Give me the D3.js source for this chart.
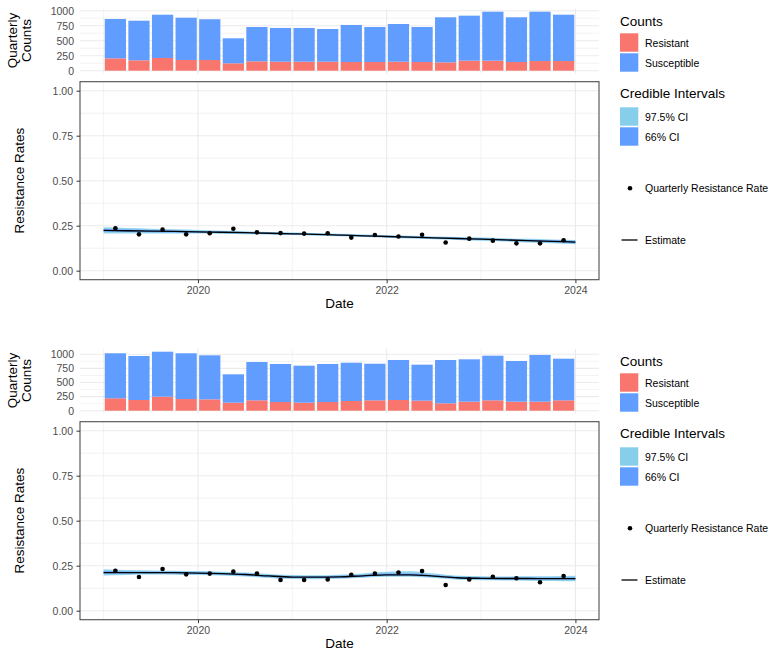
<!DOCTYPE html>
<html>
<head>
<meta charset="utf-8">
<script src="https://cdn.jsdelivr.net/npm/d3@7"></script>
<style>
  body { margin: 0; background: #fff; }
  svg { font-family: "Liberation Sans", Arial, sans-serif; display: block; }
</style>
</head>
<body>
<div id="chart"></div>
<script>
// quarters shown as bars / points
var quarters = ["2019 Q1", "2019 Q2", "2019 Q3", "2019 Q4", "2020 Q1", "2020 Q2", "2020 Q3", "2020 Q4",
                "2021 Q1", "2021 Q2", "2021 Q3", "2021 Q4", "2022 Q1", "2022 Q2", "2022 Q3", "2022 Q4",
                "2023 Q1", "2023 Q2", "2023 Q3", "2023 Q4"];

// chart 1 (top)
var resistantA   = [206, 173, 212, 178, 178, 123, 156, 150, 150, 150, 145, 145, 150, 145, 139, 167, 167, 145, 161, 161];
var susceptibleA = [656, 660, 721, 705, 679, 417, 572, 562, 562, 545, 617, 583, 628, 583, 751, 750, 816, 745, 822, 772];
var rateA = [0.236, 0.202, 0.228, 0.202, 0.208, 0.233, 0.213, 0.209, 0.206, 0.208, 0.184, 0.198, 0.190, 0.200, 0.157, 0.178, 0.167, 0.152, 0.152, 0.169];

// chart 2 (bottom)
var resistantB   = [220, 190, 248, 207, 201, 142, 184, 154, 142, 154, 172, 184, 190, 178, 131, 160, 184, 160, 160, 184];
var susceptibleB = [798, 780, 798, 811, 781, 503, 679, 674, 656, 674, 679, 649, 709, 638, 768, 751, 791, 721, 828, 738];
var rateB = [0.222, 0.187, 0.232, 0.202, 0.206, 0.217, 0.206, 0.171, 0.171, 0.174, 0.200, 0.207, 0.212, 0.220, 0.143, 0.174, 0.189, 0.180, 0.158, 0.193];

// model estimate, evaluated at quarter boundaries 2019.00 .. 2024.00
var estTimes = [2019, 2019.25, 2019.5, 2019.75, 2020, 2020.25, 2020.5, 2020.75, 2021, 2021.25, 2021.5,
                2021.75, 2022, 2022.25, 2022.5, 2022.75, 2023, 2023.25, 2023.5, 2023.75, 2024];

var estA   = [0.224, 0.222, 0.220, 0.218, 0.216, 0.2135, 0.211, 0.208, 0.205, 0.2015, 0.198, 0.194, 0.190, 0.186, 0.1825, 0.179, 0.175, 0.171, 0.167, 0.163, 0.159];
var lo975A = [0.207, 0.207, 0.207, 0.206, 0.206, 0.2045, 0.203, 0.2005, 0.198, 0.1945, 0.191, 0.187, 0.183, 0.1785, 0.1745, 0.171, 0.166, 0.162, 0.157, 0.152, 0.147];
var hi975A = [0.241, 0.237, 0.233, 0.230, 0.226, 0.2225, 0.219, 0.2155, 0.212, 0.2085, 0.205, 0.201, 0.197, 0.1935, 0.1905, 0.187, 0.184, 0.180, 0.177, 0.174, 0.171];
var lo66A  = [0.216, 0.215, 0.214, 0.2125, 0.211, 0.209, 0.207, 0.2043, 0.2015, 0.198, 0.1945, 0.1905, 0.1865, 0.1823, 0.1785, 0.175, 0.1705, 0.1665, 0.162, 0.1575, 0.153];
var hi66A  = [0.232, 0.229, 0.226, 0.2235, 0.221, 0.218, 0.215, 0.2117, 0.2085, 0.205, 0.2015, 0.1975, 0.1935, 0.1897, 0.1865, 0.183, 0.1795, 0.1755, 0.172, 0.1685, 0.165];

var estB   = [0.212, 0.212, 0.212, 0.211, 0.209, 0.206, 0.201, 0.193, 0.187, 0.186, 0.188, 0.194, 0.199, 0.199, 0.192, 0.183, 0.180, 0.179, 0.179, 0.178, 0.178];
var lo975B = [0.196, 0.199, 0.201, 0.200, 0.198, 0.195, 0.190, 0.182, 0.176, 0.175, 0.177, 0.183, 0.188, 0.188, 0.181, 0.172, 0.169, 0.168, 0.167, 0.165, 0.163];
var hi975B = [0.230, 0.226, 0.224, 0.222, 0.220, 0.217, 0.212, 0.204, 0.198, 0.197, 0.200, 0.207, 0.217, 0.219, 0.206, 0.194, 0.191, 0.190, 0.191, 0.192, 0.194];
var lo66B  = [0.205, 0.206, 0.207, 0.206, 0.204, 0.201, 0.196, 0.188, 0.182, 0.181, 0.183, 0.189, 0.194, 0.194, 0.187, 0.178, 0.175, 0.174, 0.174, 0.173, 0.172];
var hi66B  = [0.220, 0.218, 0.217, 0.216, 0.214, 0.211, 0.206, 0.198, 0.192, 0.191, 0.194, 0.200, 0.206, 0.207, 0.198, 0.188, 0.185, 0.184, 0.184, 0.184, 0.185];

var countTicks = [0, 250, 500, 750, 1000];
var rateTicks = [0, 0.25, 0.5, 0.75, 1];
var yearTicks = [2020, 2022, 2024];

var colRes = "#F8766D", colSus = "#619CFF", col975 = "#87CEEB", col66 = "#619CFF";
var gridCol = "#EBEBEB", tickTextCol = "#4D4D4D";

var svg = d3.select("#chart").append("svg").attr("width", 771).attr("height", 651);

// decimal year at mid-quarter
function quarterMid(q) {
    var p = q.split(" Q");
    return +p[0] + (+p[1] - 1) * 0.25 + 0.125;
}

var x = d3.scaleLinear().domain([2018.75, 2024.25]).range([80, 599]);

function drawChart(top, res, sus, rate, est, lo975, hi975, lo66, hi66) {
    var g = svg.append("g").attr("transform", "translate(0," + top + ")");

    var rows = quarters.map(function(q, i) {
        return { t: quarterMid(q), res: res[i], sus: sus[i], rate: rate[i] };
    });
    var maxCount = d3.max(rows, function(d) { return d.res + d.sus; });

    // ---------- counts panel (minimal theme) ----------
    var yc = d3.scaleLinear().domain([-0.05 * maxCount, 1.05 * maxCount]).range([73.65, 8.75]);
    var cp = g.append("g");
    var minorC = d3.range(125, maxCount * 1.05, 250);
    cp.selectAll(".minh").data(minorC).enter().append("line")
        .attr("x1", 80).attr("x2", 599).attr("y1", yc).attr("y2", yc)
        .attr("stroke", gridCol).attr("stroke-width", 0.6);
    cp.selectAll(".majh").data(countTicks).enter().append("line")
        .attr("x1", 80).attr("x2", 599).attr("y1", yc).attr("y2", yc)
        .attr("stroke", gridCol).attr("stroke-width", 1.1);
    [2019, 2021, 2023].forEach(function(v) {
        cp.append("line").attr("x1", x(v)).attr("x2", x(v)).attr("y1", yc.range()[0]).attr("y2", yc.range()[1])
            .attr("stroke", gridCol).attr("stroke-width", 0.6);
    });
    yearTicks.forEach(function(v) {
        cp.append("line").attr("x1", x(v)).attr("x2", x(v)).attr("y1", yc.range()[0]).attr("y2", yc.range()[1])
            .attr("stroke", gridCol).attr("stroke-width", 1.1);
    });

    var bw = x(0.225) - x(0);
    var stack = d3.stack().keys(["res", "sus"])(rows);
    var cols = { res: colRes, sus: colSus };
    stack.forEach(function(layer) {
        cp.selectAll(".b" + layer.key).data(layer).enter().append("rect")
            .attr("x", function(d) { return x(d.data.t) - bw / 2; })
            .attr("width", bw)
            .attr("y", function(d) { return yc(d[1]); })
            .attr("height", function(d) { return yc(d[0]) - yc(d[1]); })
            .attr("fill", cols[layer.key]);
    });

    var ycAxis = d3.axisLeft(yc).tickValues(countTicks).tickFormat(d3.format("d")).tickSize(0).tickPadding(6);
    var ya = cp.append("g").attr("transform", "translate(80,0)").call(ycAxis);
    ya.select(".domain").remove();
    ya.selectAll("text").attr("fill", tickTextCol).style("font-size", "10.5px")
        .style("font-family", "Liberation Sans, Arial, sans-serif");

    g.append("text").attr("transform", "translate(16.5,40.5) rotate(-90)")
        .attr("text-anchor", "middle").style("font-size", "13.5px").text("Quarterly");
    g.append("text").attr("transform", "translate(30.5,40.5) rotate(-90)")
        .attr("text-anchor", "middle").style("font-size", "13.5px").text("Counts");

    // ---------- rate panel (bw theme) ----------
    var yr = d3.scaleLinear().domain([-0.05, 1.05]).range([279.7, 81.7]);
    var rp = g.append("g");
    d3.range(0.125, 1.05, 0.25).forEach(function(v) {
        rp.append("line").attr("x1", 80).attr("x2", 599).attr("y1", yr(v)).attr("y2", yr(v))
            .attr("stroke", gridCol).attr("stroke-width", 0.6);
    });
    rateTicks.forEach(function(v) {
        rp.append("line").attr("x1", 80).attr("x2", 599).attr("y1", yr(v)).attr("y2", yr(v))
            .attr("stroke", gridCol).attr("stroke-width", 1.1);
    });
    [2019, 2021, 2023].forEach(function(v) {
        rp.append("line").attr("x1", x(v)).attr("x2", x(v)).attr("y1", 81.7).attr("y2", 279.7)
            .attr("stroke", gridCol).attr("stroke-width", 0.6);
    });
    yearTicks.forEach(function(v) {
        rp.append("line").attr("x1", x(v)).attr("x2", x(v)).attr("y1", 81.7).attr("y2", 279.7)
            .attr("stroke", gridCol).attr("stroke-width", 1.1);
    });

    var bandPts = estTimes.map(function(t, i) {
        return { t: t, est: est[i], lo975: lo975[i], hi975: hi975[i], lo66: lo66[i], hi66: hi66[i] };
    });
    var area975 = d3.area().curve(d3.curveMonotoneX)
        .x(function(d) { return x(d.t); }).y0(function(d) { return yr(d.lo975); }).y1(function(d) { return yr(d.hi975); });
    var area66 = d3.area().curve(d3.curveMonotoneX)
        .x(function(d) { return x(d.t); }).y0(function(d) { return yr(d.lo66); }).y1(function(d) { return yr(d.hi66); });
    var line = d3.line().curve(d3.curveMonotoneX)
        .x(function(d) { return x(d.t); }).y(function(d) { return yr(d.est); });

    rp.append("path").datum(bandPts).attr("d", area975).attr("fill", col975).attr("opacity", 0.9);
    rp.append("path").datum(bandPts).attr("d", area66).attr("fill", col66).attr("opacity", 0.85);
    rp.append("path").datum(bandPts).attr("d", line).attr("fill", "none")
        .attr("stroke", "#000").attr("stroke-width", 1.3);

    rp.selectAll(".pt").data(rows).enter().append("circle")
        .attr("cx", function(d) { return x(d.t); })
        .attr("cy", function(d) { return yr(d.rate); })
        .attr("r", 2.3).attr("fill", "#000");

    rp.append("rect").attr("x", 80).attr("y", 81.7).attr("width", 519).attr("height", 198)
        .attr("fill", "none").attr("stroke", "#4d4d4d").attr("stroke-width", 1.1);

    var yrAxis = d3.axisLeft(yr).tickValues(rateTicks).tickFormat(d3.format(".2f")).tickSize(3.5).tickPadding(3.5);
    var ya2 = rp.append("g").attr("transform", "translate(80,0)").call(yrAxis);
    ya2.select(".domain").remove();
    ya2.selectAll("line").attr("stroke", "#333").attr("stroke-width", 1);
    ya2.selectAll("text").attr("fill", tickTextCol).style("font-size", "10.5px")
        .style("font-family", "Liberation Sans, Arial, sans-serif");

    var xAxis = d3.axisBottom(x).tickValues(yearTicks).tickFormat(d3.format("d")).tickSize(3.5).tickPadding(3);
    var xa = rp.append("g").attr("transform", "translate(0,279.7)").call(xAxis);
    xa.select(".domain").remove();
    xa.selectAll("line").attr("stroke", "#333").attr("stroke-width", 1);
    xa.selectAll("text").attr("fill", tickTextCol).style("font-size", "10.5px")
        .style("font-family", "Liberation Sans, Arial, sans-serif");

    g.append("text").attr("x", 339.5).attr("y", 308).attr("text-anchor", "middle")
        .style("font-size", "13.5px").text("Date");
    g.append("text").attr("transform", "translate(23.5,180.7) rotate(-90)")
        .attr("text-anchor", "middle").style("font-size", "13.5px").text("Resistance Rates");

    // ---------- legends ----------
    var lg = g.append("g");
    lg.append("text").attr("x", 620).attr("y", 26).style("font-size", "13.5px").text("Counts");
    [["Resistant", colRes], ["Susceptible", colSus]].forEach(function(k, i) {
        lg.append("rect").attr("x", 620).attr("y", 33.3 + i * 20).attr("width", 18.3).attr("height", 18.4).attr("fill", k[1]);
        lg.append("text").attr("x", 645).attr("y", 46.5 + i * 20).style("font-size", "10.5px").text(k[0]);
    });
    lg.append("text").attr("x", 620).attr("y", 98.3).style("font-size", "13.5px").text("Credible Intervals");
    [["97.5% CI", col975], ["66% CI", col66]].forEach(function(k, i) {
        lg.append("rect").attr("x", 620).attr("y", 107.3 + i * 20).attr("width", 18.3).attr("height", 18.4).attr("fill", k[1]);
        lg.append("text").attr("x", 645).attr("y", 120.5 + i * 20).style("font-size", "10.5px").text(k[0]);
    });
    lg.append("circle").attr("cx", 630).attr("cy", 188.3).attr("r", 2.3).attr("fill", "#000");
    lg.append("text").attr("x", 645).attr("y", 192).style("font-size", "10.5px").text("Quarterly Resistance Rate");
    lg.append("line").attr("x1", 621.5).attr("x2", 637.5).attr("y1", 240).attr("y2", 240)
        .attr("stroke", "#000").attr("stroke-width", 1.3);
    lg.append("text").attr("x", 645).attr("y", 244).style("font-size", "10.5px").text("Estimate");
}

drawChart(0, resistantA, susceptibleA, rateA, estA, lo975A, hi975A, lo66A, hi66A);
drawChart(340, resistantB, susceptibleB, rateB, estB, lo975B, hi975B, lo66B, hi66B);
</script>
</body>
</html>
